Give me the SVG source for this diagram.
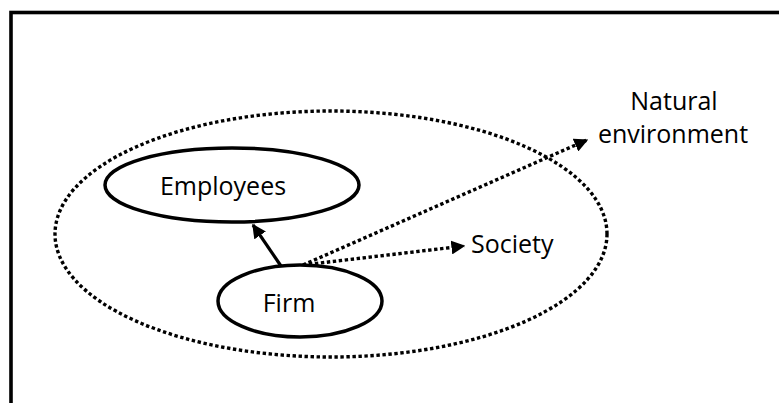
<svg xmlns="http://www.w3.org/2000/svg" width="779" height="403" viewBox="0 0 779 403">
  <style>
    .node { fill: #fff; stroke: #000; stroke-width: 3.5; }
    .label { font-family: "Open Sans", "Liberation Sans", sans-serif; font-size: 25px; fill: #000; }
    .dotted { fill: none; stroke: #000; stroke-width: 3.4; stroke-dasharray: 3.4 2.6; }
    .solid { fill: none; stroke: #000; stroke-width: 3.2; }
  </style>
  <defs>
    <marker id="arrow" viewBox="0 0 10 10" refX="9" refY="5" markerWidth="14" markerHeight="14" markerUnits="userSpaceOnUse" orient="auto">
      <path d="M0,0 L10,5 L0,10 Z" fill="#000"/>
    </marker>
  </defs>

  <rect width="779" height="403" fill="#fff"/>
  <!-- outer frame, open to the right and bottom -->
  <rect x="11" y="12.5" width="800" height="420" fill="none" stroke="#000" stroke-width="3.6"/>

  <!-- boundary of society -->
  <ellipse id="society-boundary" cx="331" cy="234" rx="276" ry="123" class="dotted"/>

  <g id="connectors">
    <line x1="281" y1="266" x2="253" y2="225" class="solid" marker-end="url(#arrow)"/>
    <line x1="303" y1="265" x2="464" y2="246" class="dotted" marker-end="url(#arrow)"/>
    <line x1="303" y1="265" x2="587" y2="140" class="dotted" marker-end="url(#arrow)"/>
  </g>

  <g id="employees">
    <ellipse cx="232" cy="185" rx="127" ry="37" class="node"/>
    <text x="223" y="195" text-anchor="middle" class="label">Employees</text>
  </g>

  <g id="firm">
    <ellipse cx="300" cy="301" rx="82" ry="36" class="node"/>
    <text x="289" y="312" text-anchor="middle" class="label">Firm</text>
  </g>

  <g id="society">
    <text x="471" y="253" class="label">Society</text>
  </g>

  <g id="natural-environment">
    <text x="674" y="110" text-anchor="middle" class="label">Natural</text>
    <text x="673" y="143" text-anchor="middle" class="label">environment</text>
  </g>
</svg>
